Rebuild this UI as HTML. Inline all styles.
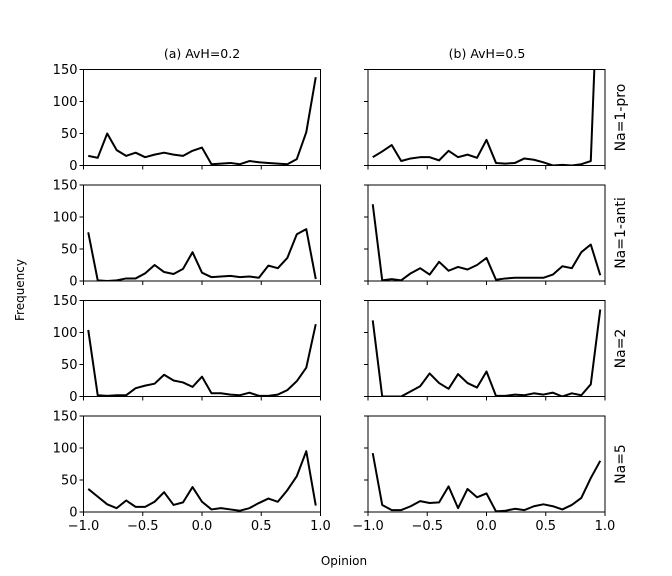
<!DOCTYPE html>
<html><head><meta charset="utf-8"><style>
html,body{margin:0;padding:0;background:#fff;}
svg{display:block;font-family:"DejaVu Sans","Liberation Sans",sans-serif;}
</style></head><body>
<svg id="s" width="672" height="576" xmlns="http://www.w3.org/2000/svg">
<text x="202" y="58" font-size="12.5" text-anchor="middle">(a) AvH=0.2</text>
<text x="487" y="58" font-size="12.5" text-anchor="middle">(b) AvH=0.5</text>
<text x="24" y="290" font-size="12" text-anchor="middle" transform="rotate(-90 24 290)">Frequency</text>
<text x="344" y="565" font-size="12" text-anchor="middle">Opinion</text>
</svg>
<script>
var data=[
[[15,12,50,24,15,20,13,17,20,17,15,23,28,2,3,4,2,7,5,4,3,2,10,52,138],
 [13,22,32,7,11,13,13,8,23,13,17,12,40,4,3,4,11,9,5,0,1,0,2,7,390]],
[[76,1,0,1,4,4,12,25,14,11,19,45,13,6,7,8,6,7,5,24,20,36,73,81,3],
 [120,1,3,1,12,20,10,30,16,22,18,25,36,2,4,5,5,5,5,10,23,20,45,57,9]],
[[104,2,1,2,2,13,17,20,34,25,22,15,31,5,5,3,2,6,1,1,3,10,24,45,113],
 [119,0,0,0,8,16,36,21,12,35,21,14,39,1,1,3,2,5,3,6,0,5,2,19,136]],
[[36,24,12,6,18,8,8,16,31,11,15,39,16,4,6,4,2,6,14,21,16,34,56,95,10],
 [92,11,3,3,9,17,14,15,40,6,36,23,29,1,2,5,3,9,12,9,4,11,22,53,80]]];
var labels=["Na=1-pro","Na=1-anti","Na=2","Na=5"];
var tops=[69.5,185,300.5,416], H=96, W=237, lefts=[83.5,368];
var s=document.getElementById('s'), h="";
for(var r=0;r<4;r++){for(var c=0;c<2;c++){
 var x0=lefts[c], y0=tops[r], yb=y0+H;
 h+='<clipPath id="c'+r+c+'"><rect x="'+x0+'" y="'+y0+'" width="'+W+'" height="'+H+'"/></clipPath>';
 var pts=data[r][c].map(function(v,i){var d=-0.96+0.08*i;return (x0+(d+1)/2*W).toFixed(2)+','+(yb-v/150*H).toFixed(2);}).join(' ');
 h+='<polyline points="'+pts+'" fill="none" stroke="#000" stroke-width="2" stroke-linejoin="round" clip-path="url(#c'+r+c+')"/>';
 h+='<rect x="'+x0+'" y="'+y0+'" width="'+W+'" height="'+H+'" fill="none" stroke="#000" stroke-width="1"/>';
 for(var k=0;k<4;k++){var yy=yb-k*50/150*H;
  h+='<line x1="'+(x0-4)+'" x2="'+x0+'" y1="'+yy+'" y2="'+yy+'" stroke="#000" stroke-width="1"/>';
  if(c==0)h+='<text x="'+(x0-6)+'" y="'+(yy+4.5)+'" font-size="13" text-anchor="end">'+(k*50)+'</text>';}
 for(var k=0;k<5;k++){var xx=x0+k*W/4;
  h+='<line x1="'+xx+'" x2="'+xx+'" y1="'+yb+'" y2="'+(yb+4)+'" stroke="#000" stroke-width="1"/>';
  if(r==3)h+='<text x="'+xx+'" y="'+(yb+18)+'" font-size="13" text-anchor="middle">'+["\u22121.0","\u22120.5","0.0","0.5","1.0"][k]+'</text>';}
 }
 var ly=tops[r]+H/2;
 h+='<text x="625" y="'+ly+'" font-size="14" text-anchor="middle" transform="rotate(-90 625 '+ly+')">'+labels[r]+'</text>';
}
s.insertAdjacentHTML('beforeend',h);
</script>
</body></html>
